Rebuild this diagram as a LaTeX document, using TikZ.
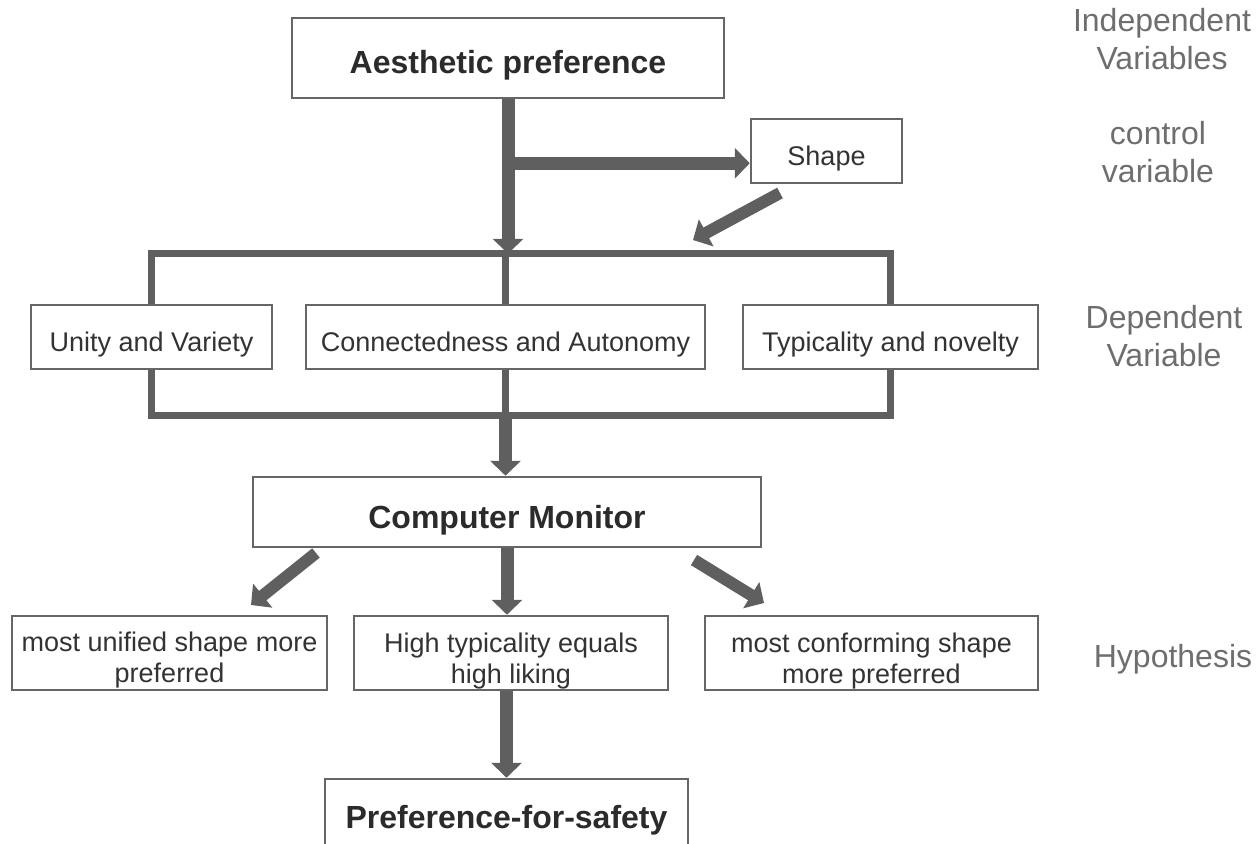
\documentclass[tikz,border=0pt]{standalone}
\usepackage{fontspec}
\setmainfont{Liberation Sans}
\usetikzlibrary{arrows.meta, positioning}
\definecolor{flowgray}{HTML}{5F5F5F}
\definecolor{framegray}{HTML}{666666}
\definecolor{inkgray}{HTML}{333333}
\definecolor{sidegray}{HTML}{6E6E6E}

\begin{document}
\begin{tikzpicture}[x=1pt,y=-1pt,
    mainbox/.style={draw=framegray, line width=2.5pt, fill=white, inner sep=0pt},
    boxtext/.style={text=inkgray, font=\fontsize{27}{31}\selectfont, align=center, inner sep=0pt, anchor=base},
    titletext/.style={boxtext, text=inkgray!85!black, font=\fontsize{32}{38}\selectfont\bfseries},
    sidelabel/.style={boxtext, text=sidegray, font=\fontsize{32}{38}\selectfont},
    flowarrow/.style={draw=flowgray, line width=13pt, -{Triangle[width=30pt,length=15pt]}},
    diagarrow/.style={flowarrow, line width=12pt},
    bracketline/.style={draw=flowgray, line width=7pt}]
  \useasboundingbox (0,0) rectangle (1257,843);

  % boxes
  \node[mainbox, minimum width=432, minimum height=80] (aes) at (508,58) {};
  \node[mainbox, minimum width=151, minimum height=64] (shp) at (826.5,151) {};
  \node[mainbox, minimum width=241, minimum height=64] (uv) at (151.5,337) {};
  \node[mainbox, minimum width=399, minimum height=64] (ca) at (505.5,337) {};
  \node[mainbox, minimum width=295, minimum height=64] (tn) at (890.5,337) {};
  \node[mainbox, minimum width=508, minimum height=70] (cm) at (507,512) {};
  \node[mainbox, minimum width=315, minimum height=74] (h1) at (169.5,653) {};
  \node[mainbox, minimum width=314, minimum height=74] (h2) at (511,653) {};
  \node[mainbox, minimum width=333, minimum height=74] (h3) at (871.5,653) {};
  \node[mainbox, minimum width=363, minimum height=101] (pfs) at (506.5,829.5) {};

  % texts (base = last line)
  \node[titletext] (aes-t) at (508,74) {Aesthetic preference};
  \node[boxtext] (shp-t) at (826.5,165) {Shape};
  \node[boxtext] (uv-t) at (151.5,351) {Unity and Variety};
  \node[boxtext] (ca-t) at (505.5,351) {Connectedness and Autonomy};
  \node[boxtext] (tn-t) at (890.5,351) {Typicality and novelty};
  \node[titletext] (cm-t) at (507,528) {Computer Monitor};
  \node[boxtext] (h1-t) at (169.5,682) {most unified shape more\\preferred};
  \node[boxtext] (h2-t) at (511,683) {High typicality equals\\high liking};
  \node[boxtext] (h3-t) at (871.5,683) {most conforming shape\\more preferred};
  \node[titletext] (pfs-t) at (506.5,828) {Preference-for-safety};

  % side labels
  \node[sidelabel] (indep) at (1162,70) {Independent\\Variables};
  \node[sidelabel] (ctrl) at (1158,182) {control\\variable};
  \node[sidelabel] (dep) at (1164,366) {Dependent\\Variable};
  \node[sidelabel] (hyp) at (1173,667) {Hypothesis};

  % brackets
  \coordinate (topbar) at ([yshift=50pt]ca.north);
  \coordinate (botbar) at ([yshift=-45pt]ca.south);
  \draw[bracketline] (uv.north) |- (topbar) -| (tn.north);
  \draw[bracketline] (ca.north) -- (topbar);
  \draw[bracketline] (uv.south) |- (botbar) -| (tn.south);
  \draw[bracketline] (ca.south) -- (botbar);

  % arrows
  \coordinate (split) at ([yshift=-64pt]aes.south);
  \coordinate (shp-from) at (780,193);
  \coordinate (shp-to) at (693,240);
  \coordinate (cml-from) at (316,553);
  \coordinate (cml-to) at (251,605);
  \coordinate (cmr-from) at (694,560);
  \coordinate (cmr-to) at (764,603);
  \draw[flowarrow] (aes.south) -- (aes.south |- topbar);
  \draw[flowarrow] (split) -- (split -| shp.west);
  \draw[diagarrow] (shp-from) -- (shp-to);
  \draw[flowarrow] (botbar) -- (botbar |- cm.north);
  \draw[diagarrow] (cml-from) -- (cml-to);
  \draw[flowarrow] (cm.south) -- (cm.south |- h2.north);
  \draw[diagarrow] (cmr-from) -- (cmr-to);
  \draw[flowarrow] (h2.south -| pfs.north) -- (pfs.north);
\end{tikzpicture}
\end{document}
